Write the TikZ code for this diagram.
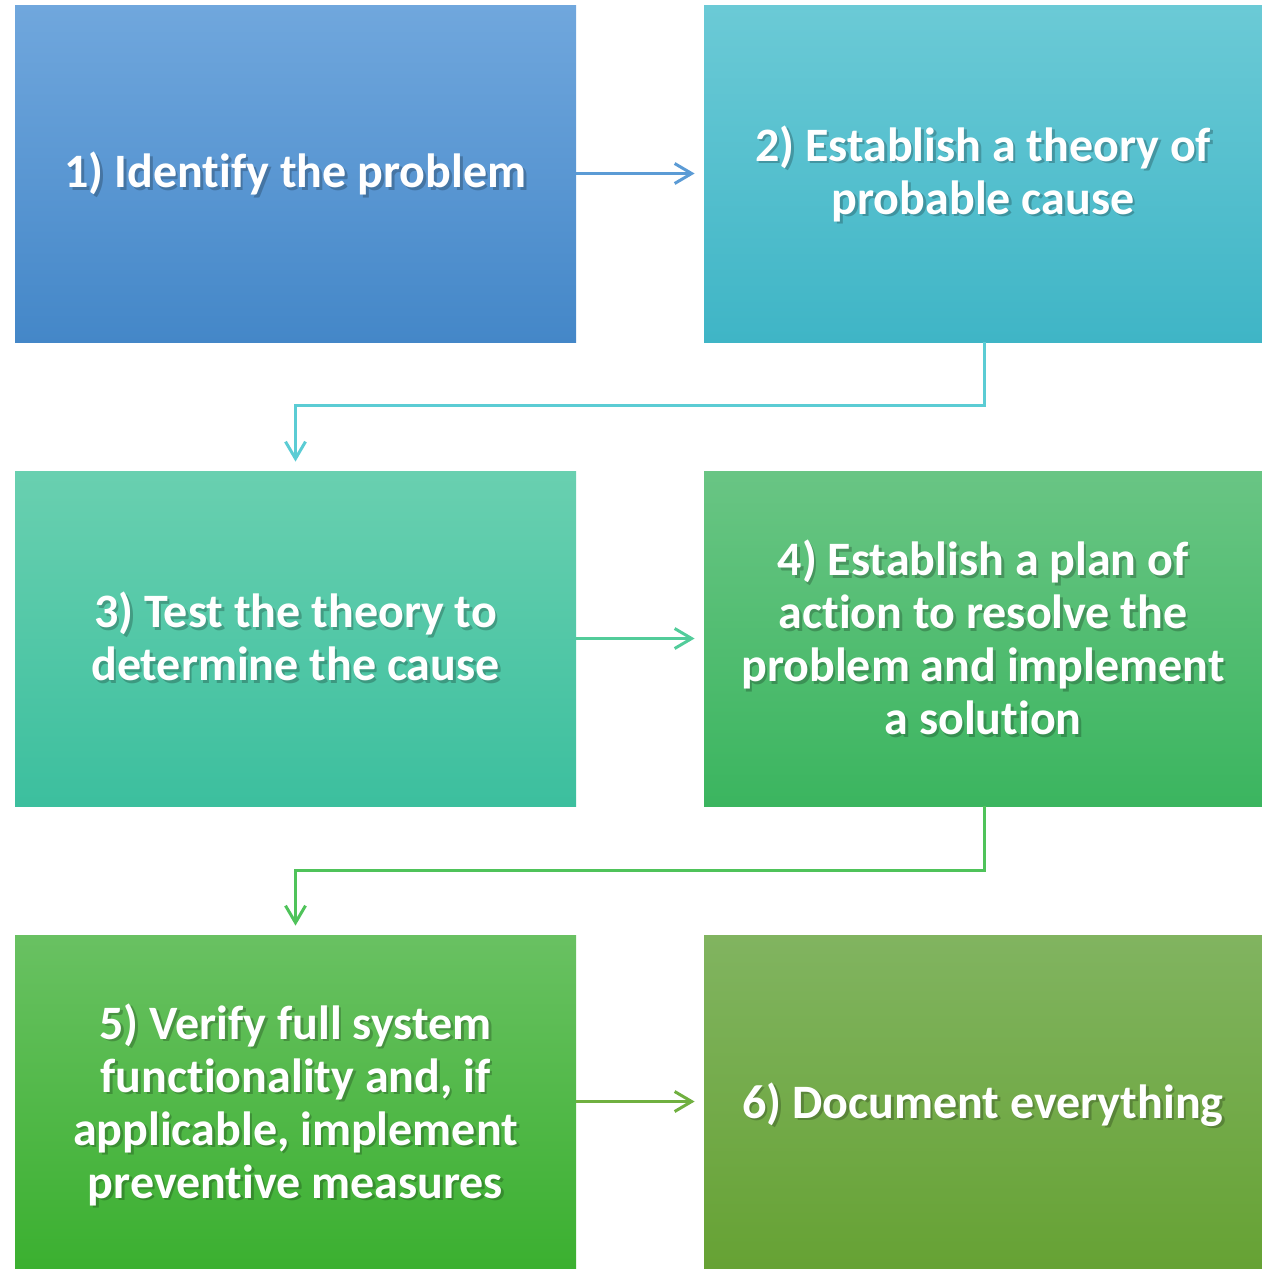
\documentclass[tikz,border=0pt]{standalone}
\usepackage{fontspec}
\setmainfont{Carlito}[Ligatures={NoCommon}]
\usetikzlibrary{arrows.meta}
\definecolor{c1t}{HTML}{70A7DD}\definecolor{c1b}{HTML}{4487C8}
\definecolor{c2t}{HTML}{6BCAD6}\definecolor{c2b}{HTML}{3FB5C6}
\definecolor{c3t}{HTML}{69D0B0}\definecolor{c3b}{HTML}{3CBF9E}
\definecolor{c4t}{HTML}{69C584}\definecolor{c4b}{HTML}{3BB55F}
\definecolor{c5t}{HTML}{69C162}\definecolor{c5b}{HTML}{3BB030}
\definecolor{c6t}{HTML}{81B460}\definecolor{c6b}{HTML}{66A234}
\definecolor{a1}{HTML}{5B9BD5}\definecolor{a2}{HTML}{5BCCD4}
\definecolor{a3}{HTML}{52CC9A}\definecolor{a4}{HTML}{4FC35A}
\definecolor{a5}{HTML}{70B040}
\tikzset{
  boxstyle/.style={rectangle, inner sep=0pt, draw=none},
  txtstyle/.style={align=center, text=white, font=\fontsize{24}{26.5}\selectfont\bfseries},
  shadowstyle/.style={txtstyle, text=black, text opacity=0.22},
  conn/.style={line width=1.5pt, -{Straight Barb[length=8.5pt, width=10pt, line width=1.5pt]}, shorten >=4.5pt},
}
\newcommand\flowbox[8]{%
  \node[boxstyle, minimum width=#3, minimum height=#4, top color=#5, bottom color=#6] (#1) at #2 {};
  \node[shadowstyle] (#1s) at ([shift={(1.3pt,-1.3pt-#7)}]#1.center) {#8};
  \node[txtstyle] (#1t) at ([yshift=-#7]#1.center) {#8};
}
\begin{document}
\begin{tikzpicture}[x=0.5pt, y=-0.5pt]
\useasboundingbox (0,0) rectangle (1262,1269);
\flowbox{b1}{(295.5,173.5)}{280.5pt}{168.5pt}{c1t}{c1b}{0pt}{1) Identify the problem}
\flowbox{b2}{(983,173.5)}{279pt}{168.5pt}{c2t}{c2b}{0pt}{2) Establish a theory of\\probable cause}
\flowbox{b3}{(295.5,638.5)}{280.5pt}{167.5pt}{c3t}{c3b}{-1pt}{3) Test the theory to\\determine the cause}
\flowbox{b4}{(983,638.5)}{279pt}{167.5pt}{c4t}{c4b}{-0.5pt}{4) Establish a plan of\\action to resolve the\\problem and implement\\a solution}
\flowbox{b5}{(295.5,1101.5)}{280.5pt}{166.5pt}{c5t}{c5b}{1.5pt}{5) Verify full system\\functionality and, if\\applicable, implement\\preventive measures}
\flowbox{b6}{(983,1101.5)}{279pt}{166.5pt}{c6t}{c6b}{1.5pt}{6) Document everything}
\coordinate (k2) at (984,405);
\coordinate (k4) at (984,870);
\draw[conn, a1] (b1.east) -- (b2.west);
\draw[conn, a2] (b2.south -| k2) -- (k2) -| (b3.north);
\draw[conn, a3] (b3.east) -- (b4.west);
\draw[conn, a4] (b4.south -| k4) -- (k4) -| (b5.north);
\draw[conn, a5] (b5.east) -- (b6.west);
\end{tikzpicture}
\end{document}
